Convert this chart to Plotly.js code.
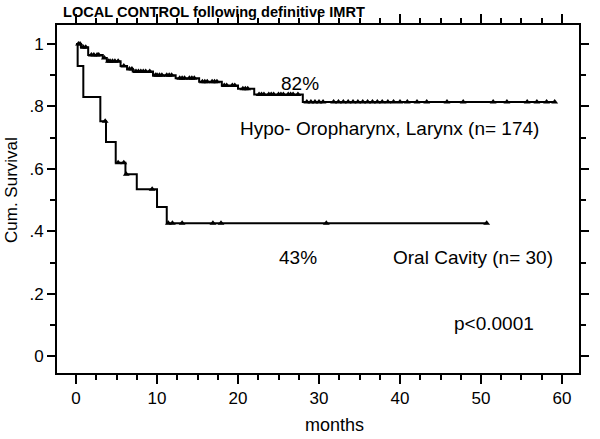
<!DOCTYPE html>
<html>
<head>
<meta charset="utf-8">
<script src="https://cdn.plot.ly/plotly-3.0.1.min.js"></script>
<style>html,body{margin:0;padding:0;background:#fff;}#chart{width:600px;height:439px;}</style>
</head>
<body>
<div id="chart"></div>
<script>
// Hypo- Oropharynx, Larynx (n=174): step times (months) and cumulative survival
const hypoTime = [0, 0.6, 1.5, 3.3, 3.8, 5.5, 6.3, 7.0, 9.5, 12.3, 15.2, 18.0, 20.0, 22.0, 28.0, 59.1];
const hypoSurv = [1.0, 0.99, 0.965, 0.955, 0.945, 0.93, 0.92, 0.912, 0.90, 0.89, 0.879, 0.867, 0.857, 0.838, 0.814, 0.814];
const hypoCensor = [0.3, 0.5, 0.9, 1.2, 1.9, 2.2, 2.6, 2.8, 3.5, 4.0, 4.2, 4.5, 4.8, 5.2, 5.9, 6.6, 6.9, 7.4, 7.7, 8.0,
  8.3, 8.6, 9.1, 9.8, 10.0, 10.3, 10.6, 11.2, 11.5, 11.8, 12.8, 13.1, 13.4, 14.0, 14.3, 14.6, 15.6, 15.9, 16.2, 16.8,
  17.1, 17.4, 18.3, 18.6, 19.3, 19.6, 20.6, 20.9, 21.2, 22.6, 22.9, 23.2, 23.8, 24.1, 24.4, 25.0, 25.3, 25.6, 26.2,
  26.5, 26.8, 27.4, 28.5, 29.0, 29.5, 30.0, 30.5, 31.8, 32.4, 33.0, 33.6, 34.2, 34.8, 35.4, 36.0, 36.6, 37.2, 37.8,
  38.5, 39.2, 40.0, 40.9, 42.1, 43.3, 45.8, 47.8, 51.5, 53.2, 55.7, 56.9, 58.1, 59.1];

// Oral Cavity (n=30)
const oralTime = [0, 0.2, 0.9, 3.0, 3.7, 4.9, 6.1, 7.5, 10.0, 11.2, 50.7];
const oralSurv = [1.0, 0.93, 0.83, 0.753, 0.686, 0.62, 0.583, 0.535, 0.478, 0.426, 0.426];
const oralCensor = [3.6, 5.2, 5.9, 6.2, 9.4, 11.4, 11.9, 13.1, 16.9, 17.9, 30.9, 50.7];

const yTickVals = [0, 0.2, 0.4, 0.6, 0.8, 1];
const yTickText = ['0', '.2', '.4', '.6', '.8', '1'];

function survAt(times, surv, t) {
  let v = surv[0];
  for (let i = 0; i < times.length; i++) { if (times[i] <= t) v = surv[i]; }
  return v;
}

const font = 'Arial, Liberation Sans, sans-serif';
const traces = [
  {x: hypoTime, y: hypoSurv, mode: 'lines', line: {shape: 'hv', color: '#000', width: 2}, hoverinfo: 'skip'},
  {x: oralTime, y: oralSurv, mode: 'lines', line: {shape: 'hv', color: '#000', width: 2}, hoverinfo: 'skip'},
  {x: hypoCensor, y: hypoCensor.map(t => survAt(hypoTime, hypoSurv, t)), mode: 'markers',
   marker: {symbol: 'triangle-up', size: 6, color: '#000'}, hoverinfo: 'skip'},
  {x: oralCensor, y: oralCensor.map(t => survAt(oralTime, oralSurv, t)), mode: 'markers',
   marker: {symbol: 'triangle-up', size: 6, color: '#000'}, hoverinfo: 'skip'}
];

const ann = (x, y, text, xanchor) => ({x, y, text, showarrow: false, xanchor, yanchor: 'middle',
  font: {family: font, size: 19, color: '#000'}});

const TC = '#000';
const layout = {
  width: 600, height: 439,
  margin: {l: 57, r: 21, t: 25, b: 66},
  paper_bgcolor: '#fff', plot_bgcolor: '#fff',
  showlegend: false,
  title: {text: '<b>LOCAL CONTROL following definitive IMRT</b>', x: 63/600, xanchor: 'left', xref: 'container',
          y: 1 - 12/439, yanchor: 'middle', yref: 'container', font: {family: font, size: 14.6, color: '#000'}},
  xaxis: {
    showgrid: false, zeroline: false, showline: true, linecolor: '#000', linewidth: 2,
    mirror: 'ticks', ticks: 'outside', tickcolor: TC, tickwidth: 2, ticklen: 9,
    tickfont: {family: font, size: 17, color: '#000'},
    range: [-2.35, 62.1], tickmode: 'linear', tick0: 0, dtick: 10,
    minor: {dtick: 2.5, ticks: 'outside', ticklen: 5, tickwidth: 2, tickcolor: TC}
  },
  yaxis: {
    showgrid: false, zeroline: false, showline: true, linecolor: '#000', linewidth: 2,
    mirror: 'ticks', ticks: 'outside', tickcolor: TC, tickwidth: 2, ticklen: 8,
    tickfont: {family: font, size: 17, color: '#000'},
    range: [-0.054, 1.061], tickmode: 'array', tickvals: yTickVals, ticktext: yTickText,
    minor: {dtick: 0.1, ticks: 'outside', ticklen: 5, tickwidth: 2, tickcolor: TC}
  },
  annotations: [
    ann(27.7, 0.872, '82%', 'center'),
    ann(20.0, 0.728, 'Hypo- Oropharynx, Larynx (n= 174)', 'left'),
    ann(27.4, 0.317, '43%', 'center'),
    ann(38.9, 0.317, 'Oral Cavity (n= 30)', 'left'),
    ann(51.6, 0.106, 'p<0.0001', 'center'),
    {xref: 'paper', yref: 'paper', x: (334 - 57) / 522, y: (373 - 425) / 348, text: 'months', showarrow: false,
     xanchor: 'center', yanchor: 'middle', font: {family: font, size: 18, color: '#000'}},
    {xref: 'paper', yref: 'paper', x: (11 - 57) / 522, y: (373 - 190) / 348, text: 'Cum. Survival', showarrow: false,
     textangle: -90, xanchor: 'center', yanchor: 'middle', font: {family: font, size: 17, color: '#000'}}
  ]
};

Plotly.newPlot('chart', traces, layout, {displayModeBar: false, staticPlot: true});
</script>
</body>
</html>
